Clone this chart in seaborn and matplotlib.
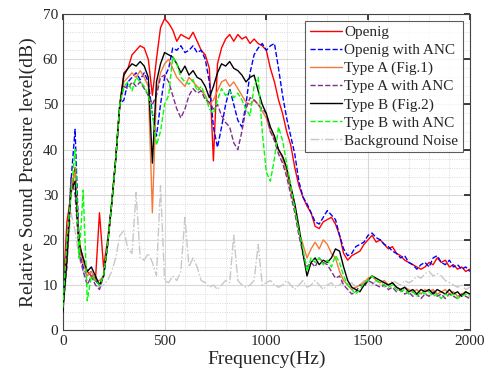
#!/usr/bin/env python3

import numpy as np
import seaborn as sns
import matplotlib.pyplot as plt
from matplotlib.ticker import MultipleLocator

# frequency grid (Hz), 20 Hz step
freq = list(range(0, 2001, 20))

openig = [8, 24, 30, 36, 20, 15, 13, 12, 11, 26,
          14, 20, 28, 38, 50, 57, 58, 61, 62, 63,
          62.5, 60, 52, 60, 67, 69, 68, 66.5, 64, 65.5,
          65, 64.5, 66, 64, 62, 61, 58, 37.5, 59, 62.5,
          64.5, 65.5, 64, 65.5, 64.5, 65, 63.5, 64.5, 63.5, 63,
          62, 58, 55, 51, 48, 44, 41, 36, 32, 29.5,
          27.5, 26, 23, 22.5, 24, 24.5, 25, 23.5, 21, 17,
          15.5, 16.5, 17, 17.5, 19, 20, 21, 19.5, 20, 19,
          18, 18.5, 17, 16.5, 15.5, 15, 14.5, 14, 13.5, 14,
          15, 14.5, 16, 15, 15.5, 14, 14.5, 13.5, 14, 13, 13.5]

openig_anc = [6, 18, 33, 44.5, 18, 14, 12, 13, 11, 10,
              12, 19, 28, 38, 50, 51, 55, 56, 57, 55.5,
              57, 55, 48, 43, 50, 56, 58, 62.5, 62, 63,
              61.5, 62, 63, 61.5, 62, 60, 55, 45, 40.5, 45,
              50, 53.5, 50, 46.5, 45, 50, 57, 61, 62.5, 63.5,
              62, 63, 63.5, 58, 52, 47, 43, 39, 33, 29.5,
              28, 26, 24, 23.5, 25, 26.5, 25.5, 24.5, 21, 18,
              16.5, 17, 18.5, 19, 19.5, 21, 21.5, 20.5, 20, 19,
              18.5, 17.5, 17, 16, 16.5, 15, 14.5, 13.5, 14.5, 15,
              14, 16, 16.5, 15, 14.5, 15.5, 14, 14.5, 13.5, 14, 13]

type_a = [5, 15, 32, 35, 18, 15, 12, 13, 11, 11,
          12, 19, 28, 38, 50, 55, 56, 57, 56, 57.5,
          56, 54, 26, 53, 57, 59, 60, 58, 56, 55,
          54, 56, 55, 54, 53, 52, 50, 51, 53, 55,
          55.5, 54, 55, 53.5, 52, 50.5, 50, 51, 50, 48.5,
          47, 44, 42.5, 40, 38, 35, 31, 27, 22, 19,
          16, 18, 19.5, 18, 20, 19, 17, 16, 13, 11,
          10, 9, 9.5, 10, 10.5, 11.5, 12, 11, 10.5, 11,
          10, 10.5, 9.5, 9, 9.5, 9, 8.5, 9, 8, 9,
          8.5, 9, 8, 8.5, 9, 8, 8.5, 7.5, 8, 8.5, 8]

type_a_anc = [5, 14, 34, 30, 17, 13, 10, 12, 10, 9,
              12, 19, 28, 38, 50, 54, 53.5, 55, 54, 55,
              53.5, 52, 50, 52, 56, 56.5, 55, 52, 49, 47,
              49, 52, 53.5, 52.5, 53, 51, 50.5, 49, 50, 47.5,
              46, 45, 41.5, 40, 44, 49, 51.5, 51, 50, 49,
              48, 44, 42, 39, 37, 34, 30, 26, 21, 17,
              14, 15, 14, 16, 15, 14.5, 13, 11.5, 12, 10,
              9, 8, 8.5, 10, 9.5, 11, 10.5, 10, 9.5, 10,
              9, 9.5, 8.5, 9, 8, 8.5, 7.5, 8, 7, 8,
              7.5, 8.5, 7.5, 8, 7, 8, 7.5, 7, 8, 7.5, 7]

type_b = [4, 16, 31, 33, 19, 16, 13, 14, 12, 10,
          12, 19, 28, 38, 50, 56.5, 58, 59, 58.5, 59.5,
          58.5, 56, 37, 55, 59, 61.5, 61, 60.5, 59, 57,
          58.5, 56.5, 57.5, 56, 55.5, 54, 51.5, 54, 57, 59,
          58.5, 59.5, 58, 57.5, 56.5, 55, 56, 56.5, 53, 50,
          48, 45, 43, 40, 38.5, 36, 32, 28, 23, 17,
          12, 15, 16, 14.5, 15.5, 15, 16, 18, 17.5, 14,
          11, 9.5, 9, 8.5, 10, 11, 12, 11.5, 11, 10.5,
          10, 10.5, 9.5, 9, 9.5, 8.5, 9, 8, 9, 8.5,
          9, 8, 9, 8.5, 8, 9, 8, 8.5, 7.5, 8.5, 8]

type_b_anc = [5, 20, 30, 40, 16, 31, 6.5, 12, 11, 10,
              12, 19, 28, 38, 50, 54, 55, 53, 56, 55,
              54, 52, 48, 41, 44, 50, 52, 60.5, 59, 56,
              55, 54.5, 55.5, 53, 54, 52, 49, 48, 51, 53.5,
              52, 53, 51.5, 52.5, 51, 49, 47.5, 54, 56, 44,
              35, 33, 38, 45, 42, 37, 32, 27, 22, 18,
              13, 16, 15, 16, 14.5, 15.5, 14, 16.5, 15, 12,
              10, 9, 8, 9, 10.5, 11, 12, 11, 10.5, 10,
              9.5, 10, 9, 8.5, 9, 8, 8.5, 7.5, 8.5, 8,
              8.5, 7.5, 8, 7, 8, 7.5, 8, 7, 7.5, 8, 7.5]

background = [3, 15, 26, 22, 16, 13, 11, 12, 10, 9.5,
              10, 11, 13, 16, 21, 22, 18, 17, 30.5, 16,
              15.5, 17, 15, 12, 32, 11, 10.5, 12, 11, 13,
              25, 14, 16, 14, 11, 10.5, 9.5, 10, 9, 10,
              11, 10.5, 21, 11, 10, 9.5, 10, 11, 19, 10,
              10.5, 11, 10, 9.5, 10, 11, 10, 9, 10, 11,
              9.5, 10, 11, 10, 9, 10, 10.5, 9.5, 10, 11,
              10, 10.5, 9.5, 10, 11, 10.5, 10, 11, 10, 9.5,
              10, 11, 10.5, 10, 11, 10.5, 11, 12, 11.5, 12.5,
              13, 12, 12.5, 12, 11, 10.5, 10, 9.5, 10, 9, 9.5]

series = [
    ('Openig', openig, '#ff0000', '-'),
    ('Openig with ANC', openig_anc, '#0000ff', '--'),
    ('Type A (Fig.1)', type_a, '#f47a3c', '-'),
    ('Type A with ANC', type_a_anc, '#7e2f8e', '--'),
    ('Type B (Fig.2)', type_b, '#000000', '-'),
    ('Type B with ANC', type_b_anc, '#00ff00', '--'),
    ('Background Noise', background, '#c8c8c8', '-.'),
]

sns.set_theme(style='white')
plt.rcParams['font.family'] = ['Liberation Serif', 'DejaVu Serif']

fig = plt.figure(figsize=(4.95, 3.83), dpi=100)
ax = fig.add_axes([0.127, 0.138, 0.822, 0.825])

for i, (name, vals, col, ls) in enumerate(series):
    z = 1 if name == 'Background Noise' else 2 + i
    sns.lineplot(x=freq, y=vals, color=col, linestyle=ls, lw=1.0,
                 label=name, ax=ax, zorder=z)

ax.set_xlim(0, 2000)
ax.set_ylim(0, 70)
ax.xaxis.set_major_locator(MultipleLocator(500))
ax.xaxis.set_minor_locator(MultipleLocator(100))
ax.yaxis.set_major_locator(MultipleLocator(10))
ax.yaxis.set_minor_locator(MultipleLocator(2))
ax.grid(True, which='major', color='#d8d8d8', lw=0.8, ls='-')
ax.grid(True, which='minor', color='#d0d0d0', lw=0.6, ls=':')
ax.set_axisbelow(True)
ax.tick_params(which='both', direction='in', top=True, right=True,
               labelsize=11, colors='#262626')
ax.tick_params(which='major', length=4)
ax.tick_params(which='minor', length=0)
for sp in ax.spines.values():
    sp.set_color('#444444')
    sp.set_linewidth(0.8)

ax.set_xlabel('Frequency(Hz)', fontsize=14, labelpad=2)
ax.set_ylabel('Relative Sound Pressure level(dB)', fontsize=14, labelpad=4)

leg = ax.legend(loc='upper right', fontsize=11, frameon=True, fancybox=False,
                edgecolor='#333333', handlelength=2.1, handletextpad=0.15,
                labelspacing=0.28, borderpad=0.3, borderaxespad=0.45)
leg.get_frame().set_linewidth(0.8)

plt.savefig('out.png', dpi=100)
